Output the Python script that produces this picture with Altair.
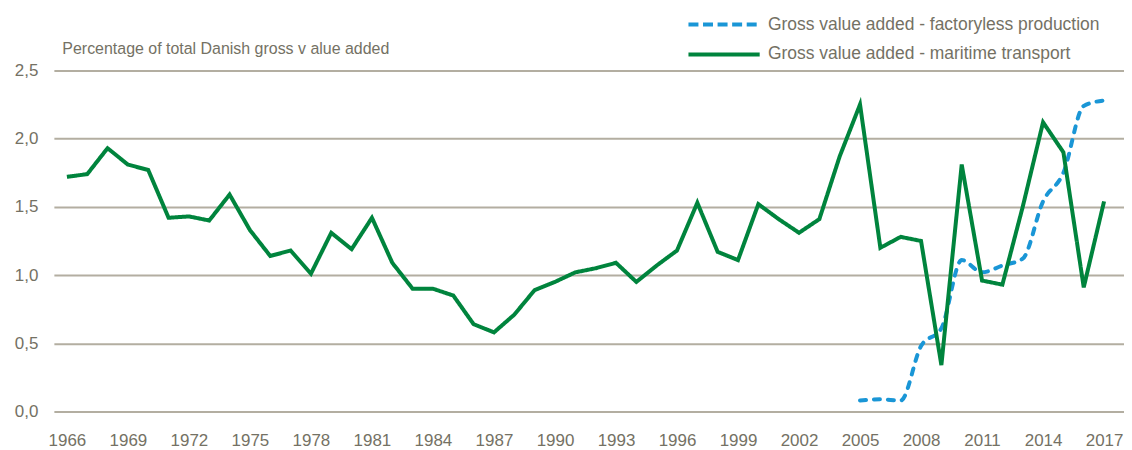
import altair as alt
import pandas as pd

years = list(range(1966, 2018))
maritime = [1.72, 1.74, 1.93, 1.81, 1.77, 1.42, 1.43, 1.40, 1.59, 1.33,
            1.14, 1.18, 1.01, 1.31, 1.19, 1.42, 1.09, 0.90, 0.90, 0.85,
            0.64, 0.58, 0.71, 0.89, 0.95, 1.02, 1.05, 1.09, 0.95, 1.07,
            1.18, 1.53, 1.17, 1.11, 1.52, 1.41, 1.31, 1.41, 1.87, 2.25,
            1.20, 1.28, 1.25, 0.34, 1.81, 0.96, 0.93, 1.50, 2.12, 1.90,
            0.91, 1.54]
fl_years = list(range(2005, 2018))
factoryless = [0.08, 0.09, 0.08, 0.48, 0.61, 1.11, 1.02, 1.07, 1.12, 1.54,
               1.75, 2.24, 2.28]

S_FL = "Gross value added - factoryless production"
S_MT = "Gross value added - maritime transport"
series_order = [S_FL, S_MT]
colors = ["#1a96d6", "#00843d"]
dashes = [[6, 8], [1, 0]]
x_ticks = list(range(1966, 2018, 3))
y_ticks = [0, 0.5, 1.0, 1.5, 2.0, 2.5]
y_title = "Percentage of total Danish gross v alue added"

df_mt = pd.DataFrame({"year": years, "value": maritime, "series": S_MT})
df_fl = pd.DataFrame({"year": fl_years, "value": factoryless, "series": S_FL})
df_mt["series_d"] = df_mt["series"]
df_fl["series_d"] = df_fl["series"]

FONT = "Liberation Sans, Arial, sans-serif"
TXT = "#747164"
GRID = "#b3aea1"

x = alt.X("year:Q",
          scale=alt.Scale(domain=[1965.36, 2017.98], nice=False, zero=False),
          axis=alt.Axis(values=x_ticks, format="d", title=None, grid=False,
                        domain=False, ticks=False, labelPadding=21,
                        labelFontSize=17, labelColor=TXT, labelFont=FONT,
                        labelFlush=False, labelOverlap=False))
y = alt.Y("value:Q",
          scale=alt.Scale(domain=[0, 2.5], nice=False),
          axis=alt.Axis(values=y_ticks, domain=False, ticks=False,
                        labelExpr="replace(format(datum.value, '.1f'), '.', ',')",
                        labelPadding=16, labelFontSize=17, labelColor=TXT,
                        labelFont=FONT, gridColor=GRID, gridWidth=2,
                        title=y_title, titleAngle=0, titleX=8, titleY=-17,
                        titleAlign="left", titleBaseline="alphabetic",
                        titleFontSize=16, titleFontWeight="normal",
                        titleColor=TXT, titleFont=FONT))
legend_common = dict(title=None, orient="none", legendX=634,
                     symbolType="stroke", symbolSize=5100,
                     symbolStrokeWidth=4, labelFontSize=17.5,
                     labelColor=TXT, labelFont=FONT, labelOffset=6,
                     labelLimit=0)
color = alt.Color("series:N",
                  scale=alt.Scale(domain=series_order, range=colors),
                  legend=alt.Legend(values=[S_FL], legendY=-84,
                                    symbolDash=[10, 4.6], **legend_common))
dash = alt.StrokeDash("series_d:N",
                      scale=alt.Scale(domain=series_order[::-1],
                                      range=dashes[::-1]),
                      legend=alt.Legend(values=[S_MT], legendY=-54,
                                        symbolStrokeColor=colors[1],
                                        **legend_common))

fl_line = alt.Chart(df_fl).mark_line(strokeWidth=4, strokeCap="round",
                                     interpolate="monotone").encode(
    x=x, y=y, color=color, strokeDash=dash)
mt_line = alt.Chart(df_mt).mark_line(strokeWidth=4, strokeJoin="miter").encode(
    x=x, y=y, color=color, strokeDash=dash)

chart = alt.layer(fl_line, mt_line).properties(
    width=1073, height=342,
    autosize=alt.AutoSizeParams(type="none"),
    padding={"left": 46, "top": 62, "right": 0, "bottom": 40},
).configure_view(stroke=None)

chart.save("out.html", embed_options={"renderer": "svg", "actions": False})
